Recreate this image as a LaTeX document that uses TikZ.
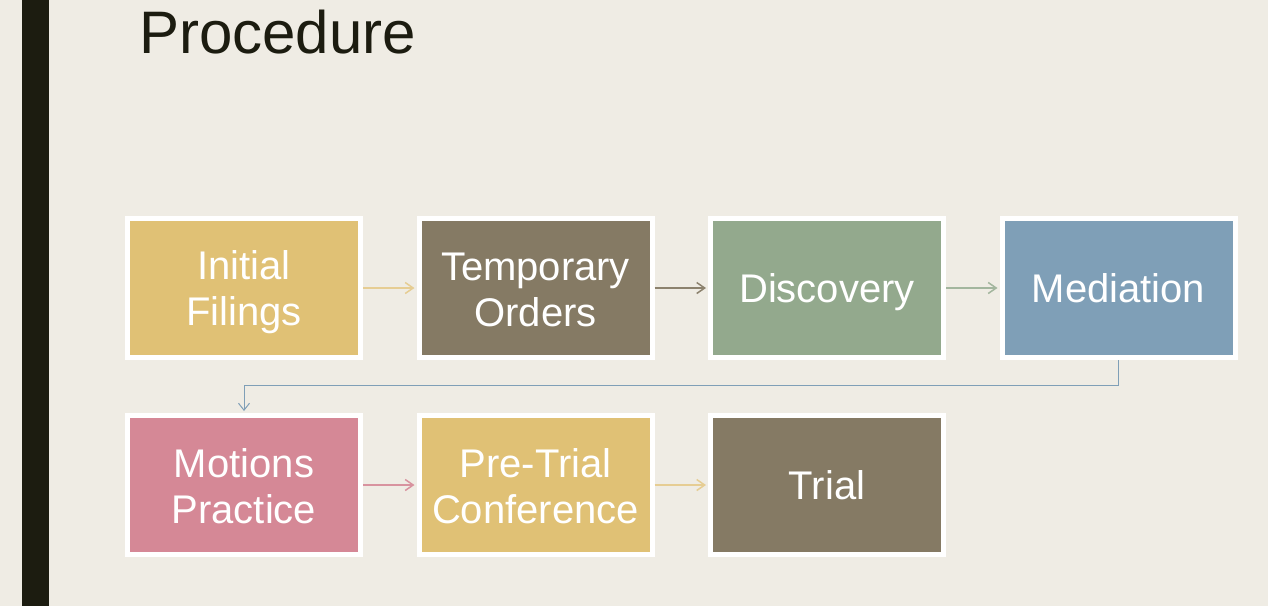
\documentclass[tikz,border=0pt]{standalone}
\usepackage{fontspec}
\setmainfont{Liberation Sans}
\usetikzlibrary{arrows.meta}
\definecolor{bg}{HTML}{EFECE4}
\definecolor{bar}{HTML}{1C1C10}
\definecolor{cgold}{HTML}{E0C175}
\definecolor{cbrown}{HTML}{857A64}
\definecolor{cgreen}{HTML}{93A98D}
\definecolor{cblue}{HTML}{7F9FB7}
\definecolor{cpink}{HTML}{D58896}
\definecolor{agold}{HTML}{E6CD93}
\definecolor{abrown}{HTML}{8C826E}
\definecolor{agreen}{HTML}{A3B69E}
\definecolor{ablue}{HTML}{7F9FB7}
\definecolor{apink}{HTML}{D8939F}
\newcommand{\tstr}{\rule{0pt}{38pt}}
\newcommand{\bstr}{\rule[-8pt]{0pt}{8pt}}
\newcommand{\nodepth}[1]{\raisebox{0pt}[\height][0pt]{#1}}
\tikzset{
  stepbox/.style={draw=white, line width=5pt, outer sep=2.5pt, inner sep=0pt,
    minimum width=233pt, minimum height=139pt, text=white, align=center,
    font=\fontsize{40}{46}\selectfont},
  flow/.style={line width=1.5pt, -{Straight Barb[length=8pt,width=11pt]}, shorten >=2pt},
  turn/.style={line width=1pt, -{Straight Barb[length=7pt,width=11pt]}, shorten >=2pt}
}
\begin{document}
\begin{tikzpicture}[x=1pt,y=-1pt]
\useasboundingbox (0,0) rectangle (1268,606);
\fill[bg] (0,0) rectangle (1268,606);
\fill[bar] (22,0) rectangle (49,606);
\node[anchor=base west, inner sep=0pt, text=bar, font=\fontsize{60}{70}\selectfont] (title) at (139,53) {Procedure};
\node[stepbox, fill=cgold] (a) at (244,288) {\tstr Initial\\Filings\bstr};
\node[stepbox, fill=cbrown] (b) at (535.5,288) {\tstr Temporary\\Orders\bstr};
\node[stepbox, fill=cgreen] (c) at (827,288) {\nodepth{Discovery}};
\node[stepbox, fill=cblue] (d) at (1118.5,288) {\nodepth{Mediation}};
\node[stepbox, fill=cpink] (e) at (244,485) {\tstr Motions\\Practice\bstr};
\node[stepbox, fill=cgold] (f) at (535.5,485) {\tstr Pre-Trial\\Conference\bstr};
\node[stepbox, fill=cbrown] (g) at (827,485) {\nodepth{Trial}};
\draw[flow, agold] (a) -- (b);
\draw[flow, abrown] (b) -- (c);
\draw[flow, agreen] (c) -- (d);
\draw[turn, ablue] (d.south) -- ++(0,25) -| (e.north);
\draw[flow, apink] (e) -- (f);
\draw[flow, agold] (f) -- (g);
\end{tikzpicture}
\end{document}
